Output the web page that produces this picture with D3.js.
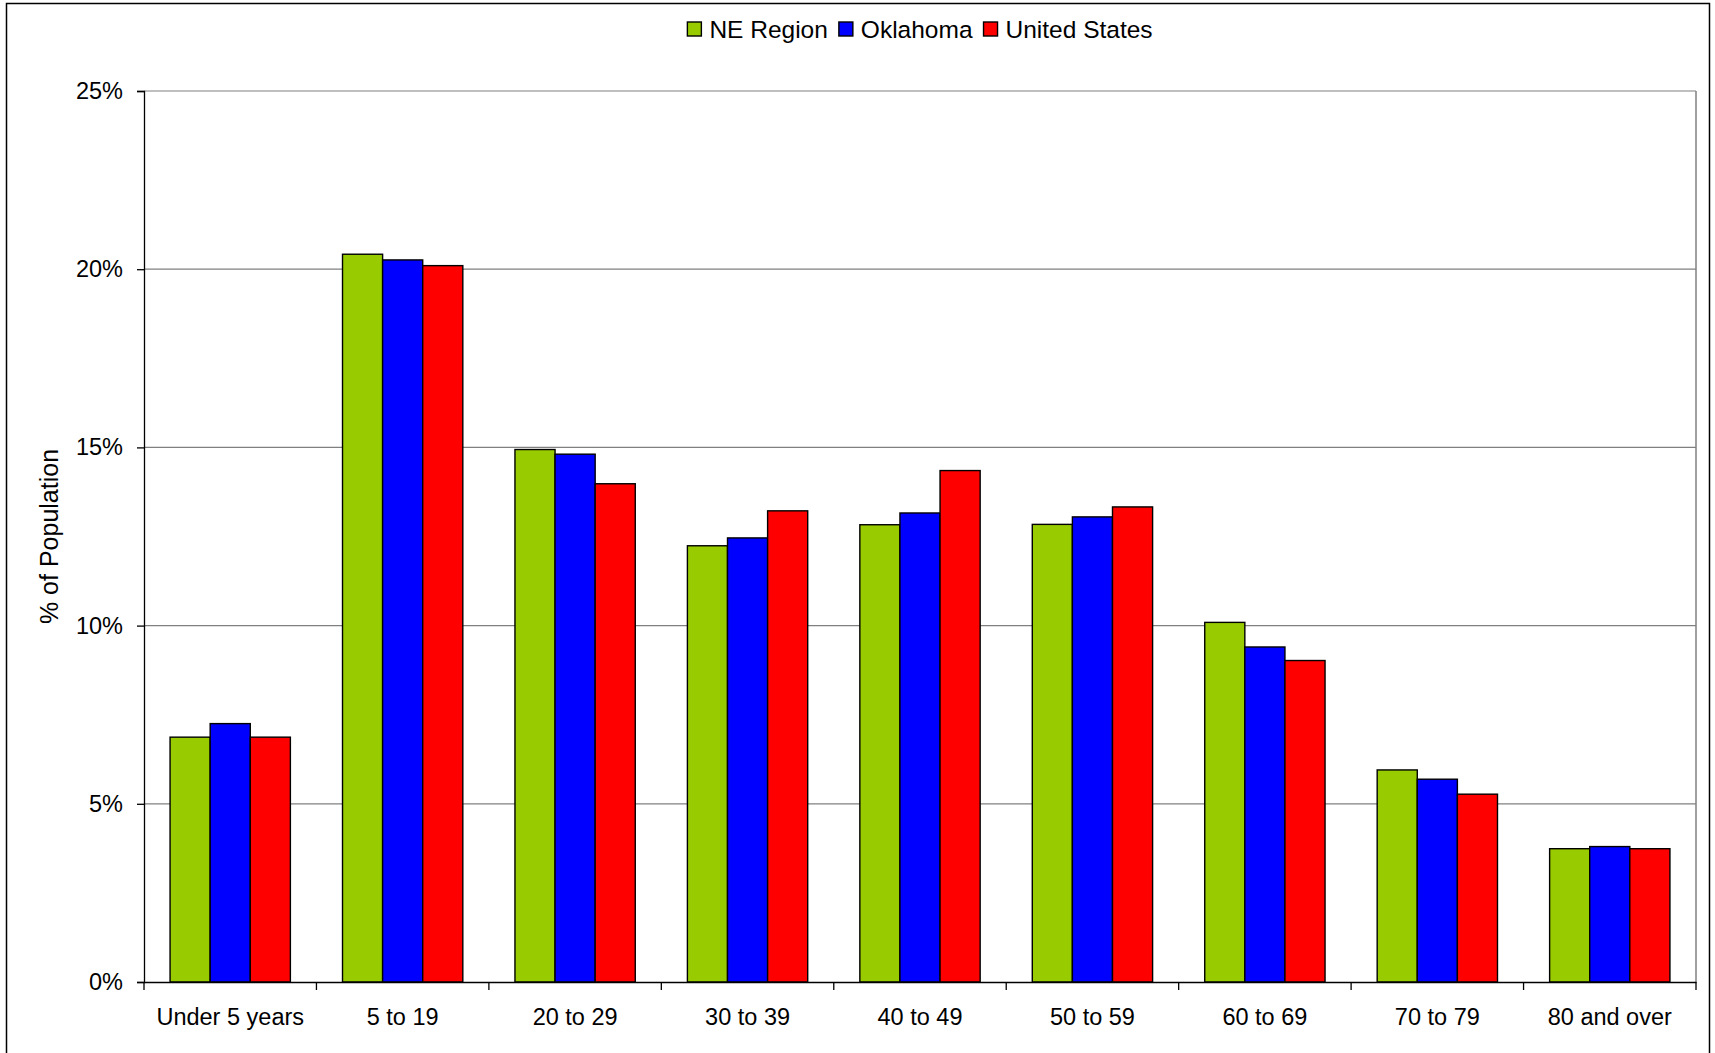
<!DOCTYPE html>
<html><head><meta charset="utf-8">
<script src="https://cdn.jsdelivr.net/npm/d3@7/dist/d3.min.js"></script>
<style>
html,body{margin:0;padding:0;background:#fff;}
text{font-family:"Liberation Sans",Arial,sans-serif;fill:#000;}
</style></head>
<body><svg id="chart" width="1715" height="1053"></svg>
<script>
const categories = ["Under 5 years","5 to 19","20 to 29","30 to 39","40 to 49","50 to 59","60 to 69","70 to 79","80 and over"];
const seriesNames = ["NE Region","Oklahoma","United States"];
const seriesColors = ["#99CC00","#0000FF","#FF0000"];
const neRegion = [6.87,20.42,14.94,12.24,12.83,12.84,10.09,5.95,3.74];
const oklahoma = [7.25,20.26,14.81,12.46,13.16,13.05,9.40,5.69,3.80];
const unitedStates = [6.87,20.10,13.98,13.22,14.35,13.33,9.02,5.27,3.74];
const yTicks = [0,5,10,15,20,25];
const yTitle = "% of Population";

const seriesValues = [neRegion, oklahoma, unitedStates];
const svg = d3.select("#chart");
const plot = {left:144, right:1696, top:91, bottom:982};

// outer border
svg.append("rect").attr("x",6.5).attr("y",3.5).attr("width",1703).attr("height",1070)
  .attr("fill","none").attr("stroke","#000").attr("stroke-width",1.5);

const x = d3.scaleBand().domain(categories).range([plot.left, plot.right]).padding(0);
const bw = x.bandwidth();
const half = bw*1.3/4.3/2;
const xs = d3.scaleBand().domain(seriesNames).range([half, bw-half]).padding(0);
const y = d3.scaleLinear().domain([0,25]).range([plot.bottom, plot.top]);

// gridlines
svg.append("g").selectAll("line").data(yTicks.filter(t=>t>0)).join("line")
  .attr("x1",plot.left).attr("x2",plot.right)
  .attr("y1",d=>y(d)).attr("y2",d=>y(d))
  .attr("stroke","#808080").attr("stroke-width",1.2);
// right border
svg.append("line").attr("x1",plot.right).attr("x2",plot.right).attr("y1",plot.top).attr("y2",plot.bottom)
  .attr("stroke","#808080").attr("stroke-width",1.5);

// bars
const rows = [];
categories.forEach((c,i)=>seriesNames.forEach((s,j)=>rows.push({c,s,v:seriesValues[j][i],col:seriesColors[j]})));
svg.append("g").selectAll("rect").data(rows).join("rect")
  .attr("x",d=>x(d.c)+xs(d.s)).attr("width",xs.bandwidth())
  .attr("y",d=>y(d.v)).attr("height",d=>y(0)-y(d.v))
  .attr("fill",d=>d.col).attr("stroke","#000").attr("stroke-width",1.4);

// y axis
const yAxis = d3.axisLeft(y).tickValues(yTicks).tickFormat(d=>d+"%").tickSize(7).tickPadding(14);
const gy = svg.append("g").attr("transform",`translate(${plot.left},0)`).call(yAxis);
gy.select(".domain").attr("stroke","#000").attr("stroke-width",1.3);
gy.selectAll(".tick line").attr("stroke","#000").attr("stroke-width",1.3);
gy.selectAll("text").attr("font-size",23.5).attr("font-family","Liberation Sans, Arial, sans-serif").attr("fill","#000");

// x axis
const gx = svg.append("g").attr("transform",`translate(0,${plot.bottom})`)
  .call(d3.axisBottom(x).tickSize(0).tickPadding(0));
gx.select(".domain").attr("stroke","#000").attr("stroke-width",1.3);
gx.selectAll(".tick text").attr("font-size",23.5).attr("font-family","Liberation Sans, Arial, sans-serif")
  .attr("fill","#000").attr("dy",null).attr("y",43);
// category boundary ticks
const bounds = categories.map(c=>x(c)).concat([plot.right]);
svg.append("g").selectAll("line").data(bounds).join("line")
  .attr("x1",d=>d).attr("x2",d=>d).attr("y1",plot.bottom).attr("y2",plot.bottom+8)
  .attr("stroke","#000").attr("stroke-width",1.3);

// y title
svg.append("text").attr("transform",`translate(49,${(plot.top+plot.bottom)/2}) rotate(-90)`)
  .attr("text-anchor","middle").attr("dominant-baseline","central")
  .attr("font-size",25).text(yTitle);

// legend
const legend = svg.append("g");
let lx = 0;
seriesNames.forEach((s,i)=>{
  const g = legend.append("g").attr("transform",`translate(${lx},0)`);
  g.append("rect").attr("x",0).attr("y",-7).attr("width",14).attr("height",14)
    .attr("fill",seriesColors[i]).attr("stroke","#000").attr("stroke-width",1.4);
  const t = g.append("text").attr("x",22).attr("y",0).attr("dominant-baseline","central")
    .attr("font-size",24.5).text(s);
  lx += 22 + t.node().getComputedTextLength() + 11;
});
const lw = lx - 11;
legend.attr("transform",`translate(${(plot.left+plot.right)/2 - lw/2},29)`);
</script></body></html>
